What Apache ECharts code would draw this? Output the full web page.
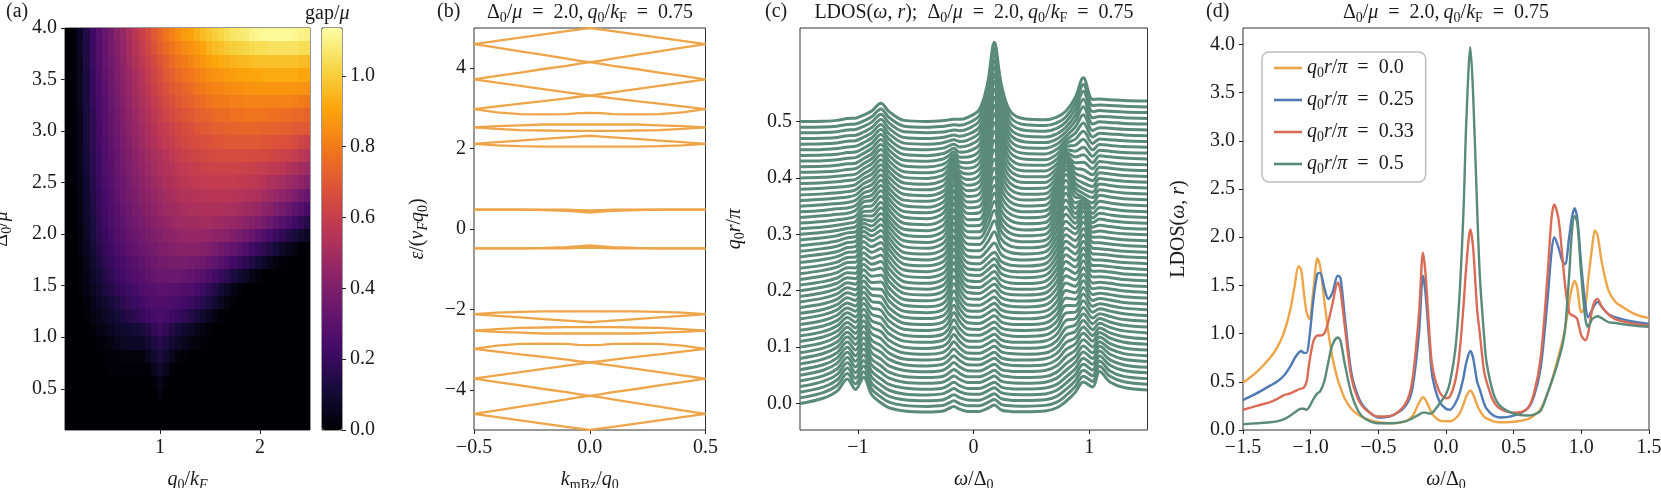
<!DOCTYPE html>
<html>
<head>
<meta charset="utf-8">
<style>html,body{margin:0;padding:0;background:#fff}#chart{width:1661px;height:488px}</style>
<script src="https://cdn.jsdelivr.net/npm/echarts@6/dist/echarts.min.js"></script>
</head>
<body>
<div id="chart"></div>
<script>
// (a) gap/mu in hundredths, one row per Delta0/mu from 4.0 down to 0.1, 40 cells per row
const gapRows = [
[0,1,7,15,22,28,33,37,42,46,51,56,61,65,70,74,78,82,85,88,90,93,96,98,100,102,104,106,107,108,110,111,112,112,112,112,112,111,110,109],
[0,1,7,14,21,27,32,37,41,45,50,55,59,63,68,72,75,78,81,84,86,88,91,94,96,97,99,100,101,102,103,104,104,105,105,105,105,105,104,104],
[0,1,6,14,21,27,32,36,40,44,49,53,57,61,65,69,72,75,78,80,83,85,87,89,91,92,93,94,95,95,96,97,97,97,97,97,97,97,96,96],
[0,1,6,13,20,26,31,35,39,43,47,51,55,59,63,66,70,72,75,77,79,81,83,85,86,87,88,89,90,90,91,91,92,92,92,92,92,92,91,91],
[0,1,6,13,20,25,30,34,38,42,46,50,54,57,61,64,67,70,72,74,76,78,80,81,82,83,84,85,85,86,86,87,87,87,87,87,87,87,86,86],
[0,1,6,13,19,24,29,33,37,41,45,49,52,55,59,62,65,67,70,72,73,75,76,78,79,80,80,81,81,82,82,82,82,82,82,82,82,81,80,79],
[0,1,5,12,18,24,28,32,36,40,44,47,51,54,57,60,63,65,67,69,70,72,73,74,75,76,76,77,77,78,78,78,78,77,77,76,76,75,75,74],
[0,1,5,12,18,23,28,32,35,39,43,46,49,52,55,58,60,62,64,66,67,69,70,71,72,72,73,73,74,74,74,74,73,73,73,72,72,71,70,70],
[0,1,5,12,18,23,27,31,34,38,41,45,48,51,53,56,58,60,62,64,65,66,67,68,69,69,70,70,70,70,70,70,69,69,68,68,67,65,63,61],
[0,1,5,11,17,22,26,30,33,37,40,43,46,49,51,53,55,57,59,61,62,63,64,65,65,66,66,66,66,66,65,65,65,64,63,62,61,59,57,55],
[0,1,5,11,17,22,26,29,33,36,39,42,45,47,50,52,54,55,57,58,59,60,61,62,62,62,62,62,62,61,61,60,59,58,57,56,54,52,50,48],
[0,1,4,10,16,21,25,28,32,35,38,41,43,46,48,50,52,53,55,56,57,58,58,59,59,59,59,59,58,58,57,56,55,53,52,50,48,46,44,41],
[0,0,4,10,15,20,24,27,31,34,37,39,42,44,46,48,50,51,53,54,54,55,55,56,56,56,56,55,55,54,53,52,50,48,46,44,42,39,36,33],
[0,0,3,9,14,19,23,26,29,33,35,38,40,42,44,46,48,49,50,51,52,52,53,53,53,52,52,51,50,49,48,46,44,42,39,37,34,31,28,24],
[0,0,3,8,13,18,22,25,28,31,34,36,38,40,42,44,45,47,48,49,49,49,50,50,49,48,47,46,45,43,41,39,37,34,31,28,25,22,19,15],
[0,0,2,7,12,17,20,24,27,29,32,34,36,38,40,41,43,44,45,46,46,46,46,45,44,43,42,40,38,36,33,30,27,24,21,18,15,12,9,7],
[0,0,2,6,11,15,19,22,25,27,30,32,34,36,37,39,40,41,42,42,42,42,41,40,38,36,34,32,29,26,23,20,17,14,11,8,5,3,1,0],
[0,0,1,5,9,13,17,20,23,25,27,29,31,33,35,37,37,38,38,38,37,36,35,33,31,29,26,23,20,17,14,11,8,5,2,1,0,0,0,0],
[0,0,1,4,8,11,15,18,21,23,25,27,29,31,33,34,34,34,34,33,32,30,28,26,23,20,17,13,10,7,4,2,0,0,0,0,0,0,0,0],
[0,0,1,3,6,9,13,15,18,20,22,24,26,28,29,30,30,29,28,27,26,24,21,18,15,11,7,4,1,0,0,0,0,0,0,0,0,0,0,0],
[0,0,0,2,4,7,9,12,14,17,19,21,23,25,26,27,26,25,24,23,21,19,16,13,10,6,3,1,0,0,0,0,0,0,0,0,0,0,0,0],
[0,0,0,1,3,5,7,9,11,13,15,17,20,22,24,25,24,22,20,18,15,12,9,6,3,1,0,0,0,0,0,0,0,0,0,0,0,0,0,0],
[0,0,0,0,1,3,4,6,8,9,10,11,12,15,18,21,18,15,12,9,7,5,3,1,0,0,0,0,0,0,0,0,0,0,0,0,0,0,0,0],
[0,0,0,0,0,1,2,3,5,6,7,7,7,10,13,16,13,10,7,5,3,2,1,0,0,0,0,0,0,0,0,0,0,0,0,0,0,0,0,0],
[0,0,0,0,0,0,1,1,1,2,2,2,2,5,9,13,9,5,2,1,0,0,0,0,0,0,0,0,0,0,0,0,0,0,0,0,0,0,0,0],
[0,0,0,0,0,0,0,1,1,1,1,1,1,1,5,9,5,1,0,0,0,0,0,0,0,0,0,0,0,0,0,0,0,0,0,0,0,0,0,0],
[0,0,0,0,0,0,0,0,0,0,0,0,0,0,1,5,1,0,0,0,0,0,0,0,0,0,0,0,0,0,0,0,0,0,0,0,0,0,0,0],
[0,0,0,0,0,0,0,0,0,0,0,0,0,0,0,2,0,0,0,0,0,0,0,0,0,0,0,0,0,0,0,0,0,0,0,0,0,0,0,0],
[0,0,0,0,0,0,0,0,0,0,0,0,0,0,0,0,0,0,0,0,0,0,0,0,0,0,0,0,0,0,0,0,0,0,0,0,0,0,0,0],
[0,0,0,0,0,0,0,0,0,0,0,0,0,0,0,0,0,0,0,0,0,0,0,0,0,0,0,0,0,0,0,0,0,0,0,0,0,0,0,0]
];
const inferno = ["#000004","#160b39","#420a68","#6a176e","#932667","#bc3754","#dd513a","#f37819","#fca50a","#f6d746","#fcffa4"];

// (b) bands
const kPoints = [-0.5,-0.4,-0.3,-0.2,-0.1,-0.05,0,0.05,0.1,0.2,0.3,0.4,0.5];
const bands = [
[4.6,4.68,4.76,4.84,4.92,4.96,5,4.96,4.92,4.84,4.76,4.68,4.6],
[4.6,4.51,4.42,4.33,4.24,4.19,4.15,4.19,4.24,4.33,4.42,4.51,4.6],
[3.72,3.81,3.89,3.98,4.06,4.11,4.15,4.11,4.06,3.98,3.89,3.81,3.72],
[3.72,3.64,3.56,3.48,3.4,3.36,3.32,3.36,3.4,3.48,3.56,3.64,3.72],
[2.98,3.05,3.12,3.18,3.25,3.29,3.32,3.29,3.25,3.18,3.12,3.05,2.98],
[2.98,2.9,2.86,2.85,2.86,2.88,2.89,2.88,2.86,2.85,2.86,2.9,2.98],
[2.53,2.56,2.58,2.6,2.6,2.6,2.6,2.6,2.6,2.6,2.58,2.56,2.53],
[2.53,2.49,2.46,2.45,2.44,2.44,2.44,2.44,2.44,2.45,2.46,2.49,2.53],
[2.12,2.16,2.2,2.24,2.28,2.3,2.32,2.3,2.28,2.24,2.2,2.16,2.12],
[2.12,2.08,2.06,2.05,2.05,2.05,2.05,2.05,2.05,2.05,2.06,2.08,2.12],
[0.48,0.48,0.48,0.47,0.45,0.43,0.41,0.43,0.45,0.47,0.48,0.48,0.48],
[0.48,0.48,0.48,0.48,0.48,0.47,0.46,0.47,0.48,0.48,0.48,0.48,0.48],
[-0.48,-0.48,-0.48,-0.48,-0.48,-0.47,-0.46,-0.47,-0.48,-0.48,-0.48,-0.48,-0.48],
[-0.48,-0.48,-0.48,-0.47,-0.45,-0.43,-0.41,-0.43,-0.45,-0.47,-0.48,-0.48,-0.48],
[-2.12,-2.08,-2.06,-2.05,-2.05,-2.05,-2.05,-2.05,-2.05,-2.05,-2.06,-2.08,-2.12],
[-2.12,-2.16,-2.2,-2.24,-2.28,-2.3,-2.32,-2.3,-2.28,-2.24,-2.2,-2.16,-2.12],
[-2.53,-2.49,-2.46,-2.45,-2.44,-2.44,-2.44,-2.44,-2.44,-2.45,-2.46,-2.49,-2.53],
[-2.53,-2.56,-2.58,-2.6,-2.6,-2.6,-2.6,-2.6,-2.6,-2.6,-2.58,-2.56,-2.53],
[-2.98,-2.9,-2.86,-2.85,-2.86,-2.88,-2.89,-2.88,-2.86,-2.85,-2.86,-2.9,-2.98],
[-2.98,-3.05,-3.12,-3.18,-3.25,-3.29,-3.32,-3.29,-3.25,-3.18,-3.12,-3.05,-2.98],
[-3.72,-3.64,-3.56,-3.48,-3.4,-3.36,-3.32,-3.36,-3.4,-3.48,-3.56,-3.64,-3.72],
[-3.72,-3.81,-3.89,-3.98,-4.06,-4.11,-4.15,-4.11,-4.06,-3.98,-3.89,-3.81,-3.72],
[-4.6,-4.51,-4.42,-4.33,-4.24,-4.19,-4.15,-4.19,-4.24,-4.33,-4.42,-4.51,-4.6],
[-4.6,-4.68,-4.76,-4.84,-4.92,-4.96,-5,-4.96,-4.92,-4.84,-4.76,-4.68,-4.6]
];

// (c) LDOS x100, one list per omega, each list runs q0r/pi = 0.00 ... 0.50 in steps of 0.01
const omegaC = [-1.5,-1.3,-1.18,-1.09,-1.02,-0.95,-0.88,-0.8,-0.73,-0.6,-0.4,-0.27,-0.22,-0.17,-0.12,-0.05,0.05,0.12,0.18,0.24,0.32,0.45,0.62,0.72,0.8,0.88,0.95,1.03,1.09,1.18,1.3,1.5];
const ldosByOmega = [
[49,49,49,48,48,47,47,46,45,45,44,43,42,41,40,39,38,37,36,35,34,34,33,32,32,31,30,29,28,27,26,25,23,21,20,19,18,17,16,15,14,13,12,11,10,9,8,8,7,7,6],
[75,75,74,74,73,72,71,70,69,68,66,65,63,62,60,59,57,56,55,53,52,51,50,49,47,46,44,42,40,38,36,34,31,29,27,26,24,22,21,19,17,16,14,13,12,11,10,9,9,8,8],
[110,110,109,108,107,106,104,102,100,98,96,93,91,88,86,84,81,78,76,73,71,69,67,65,62,60,57,54,51,48,45,42,39,37,35,32,30,28,26,24,22,20,19,17,16,15,14,13,13,12,12],
[170,169,168,166,164,161,158,154,150,146,142,137,132,127,122,118,114,110,106,102,98,95,91,88,85,81,76,72,67,62,56,51,46,42,39,37,35,33,31,30,28,27,26,25,24,23,22,22,21,21,21],
[118,118,118,117,117,116,116,115,114,113,112,110,109,107,105,103,101,99,97,95,93,92,90,89,87,85,81,77,72,67,63,60,57,55,51,48,45,42,39,36,33,31,29,28,27,26,25,24,24,23,23],
[178,178,178,177,177,177,176,176,175,175,174,174,173,172,171,170,169,168,167,166,165,165,164,164,163,162,156,148,138,128,118,110,103,98,90,84,78,73,69,64,60,56,52,49,46,44,42,40,39,38,38],
[92,92,93,94,95,97,99,101,104,107,110,113,116,119,122,125,128,130,132,134,136,137,138,138,138,138,134,130,125,120,116,112,108,105,102,99,96,93,90,87,84,80,76,73,70,67,64,62,60,59,58],
[52,53,54,56,59,62,66,70,75,80,86,92,98,104,110,116,122,128,134,140,146,150,154,157,159,160,160,160,159,158,157,156,155,153,150,147,144,141,137,133,129,125,121,117,113,109,105,102,99,97,96],
[28,28,29,30,31,33,35,37,40,43,46,49,52,55,58,62,66,70,73,77,80,84,87,90,93,95,95,94,93,92,90,88,87,85,83,81,79,77,75,73,71,69,67,65,63,61,59,58,56,55,55],
[12,12,12,12,13,13,13,14,14,14,15,15,16,16,17,18,18,19,20,20,21,21,22,22,23,23,23,23,23,23,23,22,22,22,21,21,20,20,19,18,17,16,15,15,14,14,13,13,12,12,12],
[7,7,7,7,7,8,8,8,8,9,9,9,10,10,11,11,12,12,13,13,13,14,14,14,15,15,15,15,15,15,15,15,15,15,15,14,14,13,13,12,12,11,10,10,9,9,8,8,8,7,7],
[11,11,11,12,12,13,13,14,15,16,17,18,19,20,21,22,24,25,26,27,28,30,31,32,33,33,34,35,36,37,37,38,38,38,37,36,34,32,30,28,26,24,22,20,18,16,14,13,11,11,10],
[22,22,23,24,25,26,28,30,32,34,36,38,41,44,47,50,53,56,59,62,64,66,67,68,69,70,72,75,78,81,83,84,85,85,83,79,74,69,64,58,52,46,40,35,30,26,22,19,16,15,14],
[34,35,36,38,41,44,48,53,58,64,71,78,85,92,99,106,113,120,127,134,140,145,150,154,157,160,164,168,172,176,180,182,184,184,182,175,165,150,135,118,100,85,70,57,45,36,30,25,21,19,18],
[21,21,22,23,25,27,29,32,35,38,41,44,47,51,55,58,62,65,68,71,74,77,79,81,83,85,88,90,92,94,95,96,96,95,92,87,80,72,64,56,48,41,35,30,26,23,21,19,18,17,17],
[10,10,11,11,11,12,12,13,14,15,15,16,17,18,19,20,21,22,23,24,25,26,27,28,29,30,32,34,36,38,39,40,40,40,40,39,38,37,36,35,34,33,32,31,30,29,28,28,27,27,27],
[10,10,10,10,11,11,12,12,13,13,14,14,15,16,16,17,18,19,20,21,21,22,23,24,24,25,28,31,34,37,39,41,42,44,46,48,50,52,54,56,58,59,60,61,62,63,64,64,65,65,65],
[25,25,25,26,26,27,27,28,29,30,30,31,32,33,34,35,37,38,40,42,44,46,48,50,52,55,62,72,84,96,106,114,120,127,133,140,146,152,158,163,168,172,176,180,183,185,187,188,189,190,190],
[41,41,41,42,42,43,44,45,46,47,48,49,50,52,53,55,57,59,61,64,66,69,72,75,78,82,98,125,150,172,188,200,208,220,235,250,268,285,300,315,330,343,355,366,375,382,388,392,395,396,397],
[17,17,17,18,18,18,19,19,20,20,21,21,22,23,23,24,25,26,27,28,29,30,31,32,34,36,42,51,61,70,77,82,85,91,98,105,113,121,128,136,144,151,158,164,170,175,180,184,187,189,190],
[10,10,10,10,10,10,11,11,11,11,12,12,12,13,13,13,14,14,15,15,15,16,16,17,17,18,20,23,26,29,31,33,35,37,38,40,41,43,44,46,47,48,49,50,51,52,53,54,54,55,55],
[8,8,8,8,8,8,8,9,9,9,9,10,10,10,11,11,11,12,12,12,13,13,13,13,14,14,15,16,17,18,19,19,20,20,20,20,20,20,20,20,20,20,20,20,19,19,19,19,19,19,19],
[12,12,12,12,13,13,13,14,14,15,15,16,17,17,18,19,20,20,21,22,23,23,24,24,25,25,25,26,26,26,26,26,26,26,25,24,24,23,22,21,20,20,19,18,17,17,16,16,15,15,15],
[28,28,29,30,31,33,35,37,39,42,44,47,50,53,56,60,63,67,71,75,79,83,86,89,92,95,98,101,104,107,108,109,110,108,104,98,92,85,78,70,62,55,49,44,40,36,33,31,29,28,28],
[60,61,63,65,68,72,77,83,89,96,103,110,118,126,134,142,150,158,165,172,178,184,189,193,197,200,206,212,218,224,229,232,234,233,228,218,205,190,174,158,141,125,110,97,85,76,69,64,61,59,58],
[105,105,106,107,108,110,112,114,116,118,121,124,127,130,133,136,139,142,145,148,151,155,159,163,168,172,170,167,163,158,155,152,150,144,138,132,127,123,120,118,117,117,118,119,120,121,122,123,124,125,125],
[155,156,157,158,160,162,164,166,169,172,175,178,182,186,190,194,198,202,206,210,214,218,221,224,227,230,228,225,215,203,190,165,145,118,110,105,104,107,113,120,128,137,147,158,170,181,192,202,212,218,222],
[130,130,130,130,130,130,130,130,130,130,130,130,130,130,130,130,130,130,130,130,130,130,130,130,130,130,127,123,118,112,106,100,96,93,90,88,87,87,87,88,90,92,95,98,101,104,107,110,112,114,115],
[207,205,203,199,195,190,185,179,173,167,161,156,151,147,143,140,137,135,133,132,131,130,129,129,128,128,128,129,129,130,130,130,130,130,129,128,127,126,125,124,123,122,121,120,119,118,118,117,117,117,117],
[155,155,154,153,152,151,149,147,145,143,141,139,137,135,133,132,130,129,128,127,126,125,124,123,123,122,122,122,122,122,122,122,122,122,121,121,120,120,119,118,118,117,117,116,116,115,115,115,114,114,114],
[128,128,127,127,127,126,126,125,125,124,124,123,122,122,121,120,120,119,119,118,117,117,116,116,115,115,115,115,114,114,114,113,113,113,113,113,113,112,112,112,112,111,111,111,111,110,110,110,110,110,110],
[116,116,116,116,115,115,115,115,115,114,114,114,114,113,113,113,113,112,112,112,112,111,111,111,110,110,110,110,110,109,109,109,108,108,108,108,108,108,108,108,108,108,108,107,107,107,107,107,107,107,107]
];
const waterfallScale = 0.036;

// (d) LDOS line cuts
const omegaD = [-1.5,-1.4,-1.3,-1.25,-1.2,-1.15,-1.12,-1.09,-1.07,-1.05,-1.03,-1.01,-0.98,-0.95,-0.93,-0.9,-0.87,-0.84,-0.8,-0.78,-0.75,-0.7,-0.65,-0.6,-0.5,-0.4,-0.3,-0.25,-0.2,-0.17,-0.15,-0.12,-0.1,-0.05,0,0.03,0.07,0.1,0.13,0.15,0.18,0.2,0.23,0.25,0.28,0.3,0.35,0.4,0.5,0.6,0.65,0.7,0.75,0.78,0.8,0.83,0.86,0.88,0.91,0.93,0.95,0.97,1,1.03,1.05,1.08,1.1,1.12,1.15,1.2,1.25,1.3,1.4,1.5];
const ldosR0 = [0.49,0.6,0.75,0.85,1,1.25,1.48,1.7,1.66,1.42,1.22,1.15,1.45,1.78,1.7,1.35,1.02,0.76,0.52,0.44,0.33,0.22,0.16,0.12,0.08,0.07,0.09,0.14,0.28,0.34,0.31,0.22,0.16,0.1,0.09,0.09,0.12,0.17,0.27,0.35,0.41,0.37,0.26,0.2,0.14,0.12,0.09,0.08,0.085,0.11,0.15,0.22,0.38,0.5,0.6,0.76,0.92,1.05,1.32,1.47,1.55,1.47,1.22,1.3,1.55,1.9,2.07,2.02,1.75,1.45,1.33,1.28,1.2,1.16];
const ldosR25 = [0.31,0.38,0.46,0.5,0.56,0.66,0.74,0.8,0.82,0.8,0.8,0.95,1.35,1.62,1.63,1.48,1.36,1.42,1.6,1.58,1.2,0.6,0.35,0.23,0.13,0.15,0.25,0.42,1,1.6,1.4,0.85,0.55,0.3,0.22,0.21,0.28,0.38,0.55,0.7,0.82,0.75,0.5,0.42,0.28,0.22,0.15,0.13,0.15,0.22,0.35,0.65,1.35,1.85,2,1.9,1.75,1.72,2,2.2,2.3,2.2,1.7,1.3,1.17,1.25,1.3,1.33,1.28,1.2,1.17,1.15,1.12,1.1];
const ldosR33 = [0.21,0.25,0.29,0.32,0.36,0.38,0.4,0.42,0.43,0.44,0.5,0.7,0.92,0.98,0.98,1,1.12,1.3,1.53,1.45,1.1,0.55,0.32,0.22,0.14,0.15,0.27,0.5,1.2,1.84,1.6,0.95,0.65,0.4,0.33,0.35,0.52,0.8,1.3,1.7,2.08,1.9,1.25,1,0.62,0.5,0.3,0.22,0.18,0.22,0.38,0.75,1.6,2.2,2.34,2.2,1.8,1.5,1.22,1.19,1.18,1.15,0.98,0.93,1,1.25,1.34,1.36,1.28,1.2,1.15,1.13,1.1,1.08];
const ldosR50 = [0.06,0.07,0.08,0.09,0.11,0.15,0.18,0.21,0.22,0.22,0.21,0.24,0.32,0.38,0.4,0.5,0.7,0.88,0.96,0.93,0.7,0.38,0.2,0.12,0.07,0.07,0.09,0.12,0.16,0.18,0.18,0.17,0.18,0.27,0.37,0.5,0.85,1.4,2.3,3.2,3.97,3.5,2.3,1.6,1,0.7,0.38,0.25,0.17,0.15,0.16,0.2,0.38,0.5,0.58,0.72,0.88,1.05,1.6,2.05,2.22,2.15,1.6,1.15,1.07,1.15,1.17,1.18,1.16,1.12,1.11,1.1,1.08,1.07];
const cutNames = ["r0","r25","r33","r50"];
const cutLabels = ["0.0","0.25","0.33","0.5"];
const cutColors = ["#eea549","#4f7ab6","#da6c57","#5a8a78"];

const FONT = "Liberation Serif";
const INK = "#1a1a1a";
const FS = 20;
const base = { fontFamily: FONT, color: INK, fontWeight: "normal" };
const mathRich = {
  n: { ...base, fontSize: FS, lineHeight: 24 },
  i: { ...base, fontSize: FS, lineHeight: 24, fontStyle: "italic" },
  s: { ...base, fontSize: 14, lineHeight: 13, verticalAlign: "bottom" },
  si: { ...base, fontSize: 14, lineHeight: 13, fontStyle: "italic", verticalAlign: "bottom" }
};
const EQ = "\u2002=\u2002";
const paramText = `{n|Δ}{s|0}{n|/}{i|μ}{n|${EQ}2.0,\u2009}{i|q}{s|0}{n|/}{i|k}{s|F}{n|${EQ}0.75}`;

const fmt0 = (v) => String(v).replace("-", "\u2212");
const fmt1 = (v) => Number(v).toFixed(1).replace("-", "\u2212");

function axis(opt) {
  const a = {
    type: "value",
    gridIndex: opt.grid,
    min: opt.min,
    max: opt.max,
    scale: true,
    position: opt.position,
    splitLine: { show: false },
    axisLine: { show: false, onZero: false },
    axisTick: { show: true, length: 4, lineStyle: { color: "#222", width: 1 }, customValues: opt.ticks },
    axisLabel: {
      show: true, margin: 8, color: INK, fontFamily: FONT, fontSize: FS,
      customValues: opt.ticks, formatter: opt.fmt
    }
  };
  if (opt.name) {
    a.name = opt.name;
    a.nameLocation = "middle";
    a.nameGap = opt.gap;
    a.nameRotate = opt.rotate || 0;
    a.nameTextStyle = { rich: mathRich, fontFamily: FONT, fontSize: FS, color: INK };
  }
  return a;
}
const frame = (left, width) => ({
  left, width, top: 28, height: 402, show: true, borderColor: "#333", borderWidth: 1,
  backgroundColor: "transparent", containLabel: false, outerBoundsMode: "none"
});
const grids = [frame(65, 245), frame(474, 231.5), frame(800, 347.5), frame(1243, 406), frame(322, 20)];

const xAxes = [
  axis({ grid: 0, min: 0.05, max: 2.5, ticks: [1, 2], fmt: fmt0, name: "{i|q}{s|0}{n|/}{i|k}{si|F}", gap: 38 }),
  axis({ grid: 1, min: -0.5, max: 0.5, ticks: [-0.5, 0, 0.5], fmt: fmt1, name: "{i|k}{s|mBz}{n|/}{i|q}{s|0}", gap: 38 }),
  axis({ grid: 2, min: -1.5, max: 1.504, ticks: [-1, 0, 1], fmt: fmt0, name: "{i|ω}{n|/Δ}{s|0}", gap: 38 }),
  axis({ grid: 3, min: -1.5, max: 1.5, ticks: [-1.5, -1, -0.5, 0, 0.5, 1, 1.5], fmt: fmt1, name: "{i|ω}{n|/Δ}{s|0}", gap: 38 }),
  axis({ grid: 4, min: 0, max: 1, ticks: [], fmt: fmt1 })
];
const yAxes = [
  axis({ grid: 0, min: 0.1, max: 4, ticks: [0.5, 1, 1.5, 2, 2.5, 3, 3.5, 4], fmt: fmt1, name: "{n|Δ}{s|0}{n|/}{i|μ}", gap: 51, rotate: 90 }),
  axis({ grid: 1, min: -5, max: 5, ticks: [-4, -2, 0, 2, 4], fmt: fmt0, name: "{i|ε}{n|/(}{i|v}{si|F}{i|q}{s|0}{n|)}", gap: 44, rotate: 90 }),
  axis({ grid: 2, min: -0.047, max: 0.666, ticks: [0, 0.1, 0.2, 0.3, 0.4, 0.5], fmt: fmt1, name: "{i|q}{s|0}{i|r}{n|/}{i|π}", gap: 53, rotate: 90 }),
  axis({ grid: 3, min: 0, max: 4.17, ticks: [0, 0.5, 1, 1.5, 2, 2.5, 3, 3.5, 4], fmt: fmt1, name: "{n|LDOS(}{i|ω}{n|, }{i|r}{n|)}", gap: 52, rotate: 90 }),
  axis({ grid: 4, min: 0, max: 1.135, ticks: [0, 0.2, 0.4, 0.6, 0.8, 1], fmt: fmt1, position: "right" })
];
xAxes[4].axisLabel.show = false;
xAxes[4].axisTick.show = false;

// heatmap cells
const nRows = gapRows.length, nCols = gapRows[0].length;
const dq = (2.5 - 0.05) / nCols, dDelta = (4 - 0.1) / nRows;
const heatData = [];
gapRows.forEach((row, j) => row.forEach((g, i) => {
  heatData.push([0.05 + (i + 0.5) * dq, 4 - (j + 0.5) * dDelta, g / 100]);
}));
const snap = (v) => Math.round(Number(v.toFixed(3)));

const series = [{
  type: "custom",
  xAxisIndex: 0, yAxisIndex: 0,
  silent: true,
  encode: { x: 0, y: 1 },
  data: heatData,
  renderItem(params, api) {
    const q = api.value(0), d = api.value(1);
    const a = api.coord([q - dq / 2, d + dDelta / 2]);
    const b = api.coord([q + dq / 2, d - dDelta / 2]);
    const x0 = snap(a[0]), y0 = snap(a[1]);
    return {
      type: "rect",
      shape: { x: x0, y: y0, width: snap(b[0]) - x0, height: snap(b[1]) - y0 },
      style: { fill: api.visual("color") }
    };
  }
}];

bands.forEach((b) => series.push({
  type: "line", xAxisIndex: 1, yAxisIndex: 1, silent: true, symbol: "none",
  lineStyle: { color: cutColors[0], width: 2.3 },
  data: b.map((v, i) => [kPoints[i], v])
}));

const nR = ldosByOmega[0].length;
for (let ri = 0; ri < nR; ri++) {
  const r = ri / 100;
  const start = ldosByOmega[0][ri];
  series.push({
    type: "line", xAxisIndex: 2, yAxisIndex: 2, silent: true, symbol: "none",
    smooth: 0.35,
    lineStyle: { color: cutColors[3], width: 3 },
    data: omegaC.map((w, k) => [w, r + waterfallScale * (ldosByOmega[k][ri] - start) / 100])
  });
}

[ldosR0, ldosR25, ldosR33, ldosR50].forEach((vals, idx) => series.push({
  name: cutNames[idx], type: "line", xAxisIndex: 3, yAxisIndex: 3, silent: true, symbol: "none",
  smooth: 0.3,
  lineStyle: { color: cutColors[idx], width: 2.4 },
  itemStyle: { color: cutColors[idx] },
  data: vals.map((v, i) => [omegaD[i], v])
}));

const label = (text, left, top, align) => ({
  text, left, top, textAlign: align || "left", padding: 0,
  textStyle: { rich: mathRich, fontFamily: FONT, fontSize: FS, color: INK, fontWeight: "normal" }
});

const chart = echarts.init(document.getElementById("chart"));
chart.setOption({
  animation: false,
  backgroundColor: "#fff",
  title: [
    label("{n|(a)}", 6, 0),
    label("{n|gap/}{i|μ}", 305, 2),
    label("{n|(b)}", 437, 0),
    label(paramText, 590, 1, "center"),
    label("{n|(c)}", 765, 0),
    label("{n|LDOS(}{i|ω}{n|, }{i|r}{n|);\u2002}" + paramText, 974, 1, "center"),
    label("{n|(d)}", 1206, 0),
    label(paramText, 1446, 1, "center")
  ],
  grid: grids,
  xAxis: xAxes,
  yAxis: yAxes,
  visualMap: {
    type: "continuous",
    seriesIndex: 0,
    dimension: 2,
    min: 0,
    max: 1.135,
    left: 322,
    top: 28,
    itemWidth: 20,
    itemHeight: 402,
    padding: 0,
    calculable: false,
    hoverLink: false,
    text: ["", ""],
    inRange: { color: inferno }
  },
  legend: {
    orient: "vertical",
    left: 1262,
    top: 52,
    padding: [6, 12, 6, 12],
    itemGap: 10,
    itemWidth: 28,
    itemHeight: 2.6,
    icon: "rect",
    backgroundColor: "#fff",
    borderColor: "#bdbdbd",
    borderWidth: 1.5,
    borderRadius: 7,
    data: cutNames,
    selectedMode: false,
    textStyle: { rich: mathRich, fontFamily: FONT, fontSize: FS },
    formatter: (name) => `{i|q}{s|0}{i|r}{n|/}{i|π}{n|${EQ}${cutLabels[cutNames.indexOf(name)]}}`
  },
  series
});
</script>
</body>
</html>
